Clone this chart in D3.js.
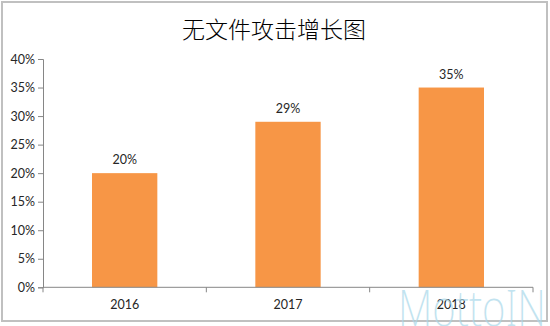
<!DOCTYPE html>
<html>
<head>
<meta charset="utf-8">
<script src="https://cdn.jsdelivr.net/npm/d3@7"></script>
<style>
  html, body { margin: 0; padding: 0; background: #fff; }
  svg { display: block; }
</style>
</head>
<body>
<div id="chart"></div>
<script>
const title = "无文件攻击增长图";
const years = ["2016", "2017", "2018"];
const growth = [20, 29, 35];
const yTicks = [0, 5, 10, 15, 20, 25, 30, 35, 40];

const width = 550;
const height = 326;
const margin = { top: 59, right: 17, bottom: 38, left: 43 };

const svg = d3.select("#chart")
    .append("svg")
    .attr("width", width)
    .attr("height", height);

// outer frame
svg.append("rect")
    .attr("x", 2).attr("y", 2)
    .attr("width", width - 5).attr("height", 319)
    .attr("fill", "#fff")
    .attr("stroke", "#c0c0c0")
    .attr("stroke-width", 2);

svg.append("text")
    .attr("x", width / 2 - 1)
    .attr("y", 38)
    .attr("text-anchor", "middle")
    .style("font-family", "'Noto Sans CJK SC', sans-serif")
    .style("font-size", "23px")
    .style("font-weight", "300")
    .style("fill", "#000")
    .text(title);

const x = d3.scaleBand()
    .domain(years)
    .range([margin.left, width - margin.right])
    .paddingInner(0.6)
    .paddingOuter(0.3);

const y = d3.scaleLinear()
    .domain([0, 40])
    .range([height - margin.bottom - 0.7, margin.top]);

const font = "Lato, 'Open Sans', sans-serif";
const axisColor = "#868686";

// y axis
const yAxis = svg.append("g")
    .attr("transform", `translate(${margin.left},0)`)
    .call(d3.axisLeft(y).tickValues(yTicks).tickSize(5).tickPadding(3).tickFormat(d => d + "%"));
yAxis.select(".domain").attr("stroke", axisColor);
yAxis.selectAll(".tick line").attr("stroke", axisColor);
yAxis.selectAll("text")
    .style("font-family", font)
    .style("font-size", "12.5px")
    .style("fill", "#262626");

// bars
svg.append("g")
    .selectAll("rect")
    .data(growth)
    .join("rect")
    .attr("x", (d, i) => x(years[i]))
    .attr("y", d => y(d))
    .attr("width", x.bandwidth())
    .attr("height", d => y(0) - y(d))
    .attr("fill", "#F79646");

// value labels
svg.append("g")
    .selectAll("text")
    .data(growth)
    .join("text")
    .attr("x", (d, i) => x(years[i]) + x.bandwidth() / 2)
    .attr("y", d => y(d) - 9)
    .attr("text-anchor", "middle")
    .style("font-family", font)
    .style("font-size", "12.5px")
    .style("fill", "#262626")
    .text(d => d + "%");

// x axis with ticks at band boundaries
const y0 = y(0);
const xg = svg.append("g");
xg.append("line")
    .attr("x1", margin.left).attr("x2", width - margin.right)
    .attr("y1", y0).attr("y2", y0)
    .attr("stroke", axisColor);
const step = x.step();
const bounds = d3.range(years.length + 1).map(i => margin.left + i * step);
xg.selectAll("line.tk")
    .data(bounds)
    .join("line")
    .attr("class", "tk")
    .attr("x1", d => d).attr("x2", d => d)
    .attr("y1", y0).attr("y2", y0 + 5)
    .attr("stroke", axisColor);
xg.selectAll("text")
    .data(years)
    .join("text")
    .attr("x", d => x(d) + x.bandwidth() / 2)
    .attr("y", y0 + 22)
    .attr("text-anchor", "middle")
    .style("font-family", font)
    .style("font-size", "12.5px")
    .style("fill", "#262626")
    .text(d => d);

// watermark
svg.append("text")
    .attr("x", 398)
    .attr("y", 326)
    .style("font-family", "'Noto Sans', sans-serif")
    .style("font-size", "50px")
    .style("font-weight", "200")
    .style("fill", "#a9d8ea")
    .style("opacity", 0.7)
    .attr("textLength", 148)
    .attr("lengthAdjust", "spacingAndGlyphs")
    .text("MottoIN");
</script>
</body>
</html>
